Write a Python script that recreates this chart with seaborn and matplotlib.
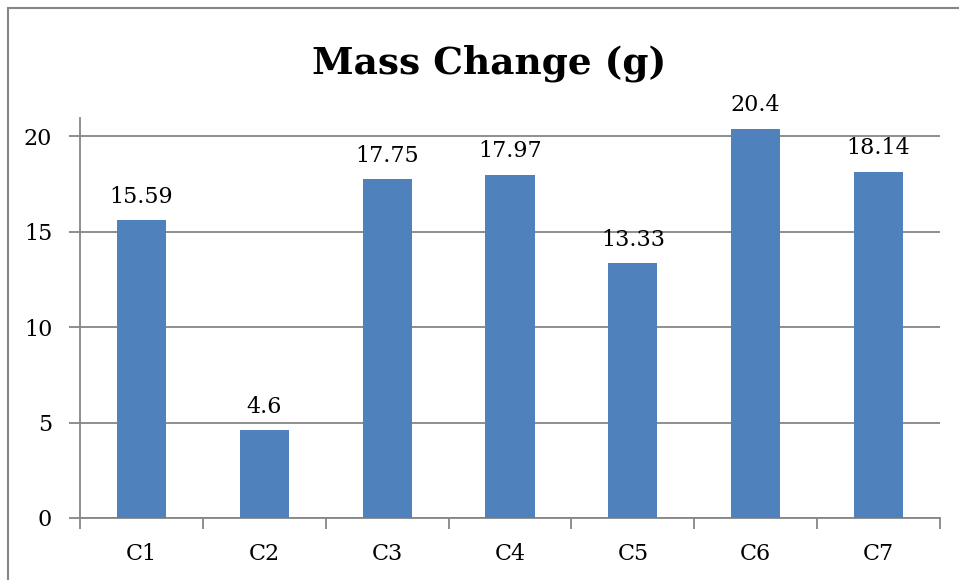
import matplotlib
matplotlib.use("Agg")
import matplotlib.pyplot as plt
import seaborn as sns
import numpy as np
from matplotlib.patches import Rectangle

categories = ["C1", "C2", "C3", "C4", "C5", "C6", "C7"]
mass_change = [15.59, 4.6, 17.75, 17.97, 13.33, 20.4, 18.14]
label_text = ["15.59", "4.6", "17.75", "17.97", "13.33", "20.4", "18.14"]
y_ticks = [0, 5, 10, 15, 20]

sns.set_style("white")
plt.rcParams['font.family'] = ['DejaVu Serif']
plt.rcParams['text.color'] = 'black'
plt.rcParams['xtick.color'] = 'black'
plt.rcParams['ytick.color'] = 'black'

fig = plt.figure(figsize=(9.59, 5.8), dpi=100)
ax = fig.add_axes([80/959, 1 - 518/580, 860/959, (518 - 118)/580])

sns.barplot(x=categories, y=mass_change, color="#4F81BD", saturation=1,
            width=0.4, linewidth=0, ax=ax, zorder=3)

ax.set_xlim(-0.5, 6.5)
ax.set_ylim(0, 20.95)
ax.set_yticks(y_ticks)
ax.set_yticklabels([str(t) for t in y_ticks])
for t in y_ticks:
    ax.axhline(t, color="#868686", lw=1.3, zorder=1)

# 类别边界上的刻度
ax.set_xticks(np.arange(-0.5, 7, 1), minor=True)
ax.tick_params(axis="x", which="major", bottom=True, length=0, pad=18, labelsize=16,
               labelcolor="black")
ax.tick_params(axis="x", which="minor", bottom=True, length=8, width=1.3,
               color="#868686", direction="out")
ax.tick_params(axis="y", left=True, length=8, width=1.3, color="#868686",
               direction="out", pad=12, labelsize=16, labelcolor="black")

for side in ["top", "right"]:
    ax.spines[side].set_visible(False)
for side in ["left", "bottom"]:
    ax.spines[side].set_color("#868686")
    ax.spines[side].set_linewidth(1.3)
ax.set_xlabel("")
ax.set_ylabel("")

ax.bar_label(ax.containers[0], labels=label_text, padding=9, fontsize=16, color="black")

fig.text(489/959, 1 - 73/580, "Mass Change (g)", ha="center", va="baseline",
         fontsize=27, fontweight="bold", color="black")

fig.patches.append(Rectangle((8/959, -0.1), 1.2, 1 - 8/580 + 0.1, transform=fig.transFigure,
                             fill=False, edgecolor="#868686", lw=1.5))

fig.savefig("out.png", dpi=100)
